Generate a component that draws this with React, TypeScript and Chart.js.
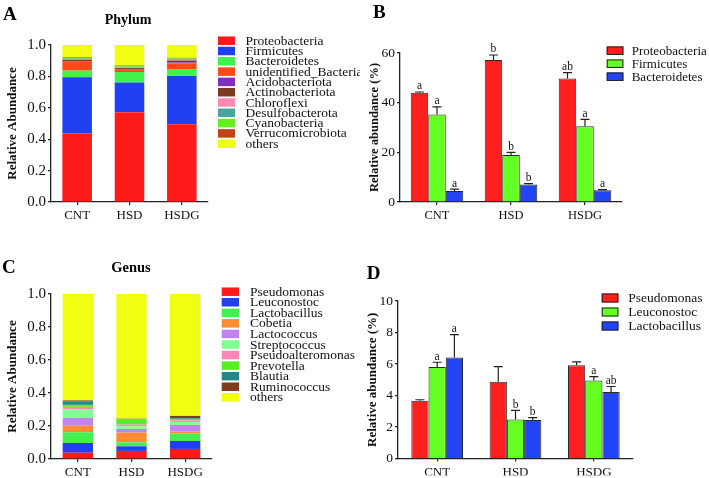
import React, { useEffect, useRef } from "react";
import { Chart, registerables } from "chart.js";

Chart.register(...registerables);

const SERIF = "'Liberation Serif', 'Times New Roman', Times, serif";

// ---------- shared categories ----------
const groups = ["CNT", "HSD", "HSDG"];

// ---------- Panel A: phylum composition ----------
const phylumNames = [
  "Proteobacteria", "Firmicutes", "Bacteroidetes", "unidentified_Bacteria", "Acidobacteriota",
  "Actinobacteriota", "Chloroflexi", "Desulfobacterota", "Cyanobacteria", "Verrucomicrobiota", "others",
];
const phylumColors = [
  "#ff1a1a", "#2140f2", "#40f24a", "#ff4a18", "#7d2fbf",
  "#7a3b1e", "#ff8ab4", "#4aa59e", "#62f01e", "#c0421a", "#f0ff12",
];
const phylumCNT = [0.436, 0.358, 0.043, 0.057, 0.004, 0.008, 0.004, 0.004, 0.004, 0.004, 0.078];
const phylumHSD = [0.572, 0.189, 0.067, 0.015, 0.004, 0.006, 0.004, 0.004, 0.005, 0.003, 0.131];
const phylumHSDG = [0.496, 0.307, 0.044, 0.036, 0.006, 0.012, 0.004, 0.004, 0.005, 0.004, 0.082];

// ---------- Panel C: genus composition ----------
const genusNames = [
  "Pseudomonas", "Leuconostoc", "Lactobacillus", "Cobetia", "Lactococcus",
  "Streptococcus", "Pseudoalteromonas", "Prevotella", "Blautia", "Ruminococcus", "others",
];
const genusColors = [
  "#ff1a1a", "#2140f2", "#44f050", "#ff8c30", "#c282f0",
  "#84ff92", "#ff86b4", "#55f022", "#1f8a86", "#7e3c1c", "#f0ff12",
];
const genusCNT = [0.038, 0.059, 0.065, 0.040, 0.047, 0.051, 0.016, 0.012, 0.022, 0.005, 0.645];
const genusHSD = [0.049, 0.028, 0.024, 0.059, 0.022, 0.016, 0.011, 0.030, 0.003, 0.002, 0.756];
const genusHSDG = [0.061, 0.048, 0.045, 0.012, 0.040, 0.019, 0.010, 0.008, 0.004, 0.014, 0.739];

// ---------- Panel B: dominant phyla (%) ----------
const proteobacteriaPct = [44.0, 57.2, 49.7];
const proteobacteriaErr = [0.3, 2.0, 2.4];
const proteobacteriaSig = ["a", "b", "ab"];
const firmicutesPct = [35.2, 18.9, 30.5];
const firmicutesErr = [3.1, 1.1, 2.8];
const firmicutesSig = ["a", "b", "a"];
const bacteroidetesPct = [4.4, 7.0, 4.7];
const bacteroidetesErr = [0.8, 0.4, 0.3];
const bacteroidetesSig = ["a", "b", "a"];

// ---------- Panel D: dominant genera (%) ----------
const pseudomonasPct = [3.66, 4.87, 5.92];
const pseudomonasErr = [0.07, 0.96, 0.21];
const pseudomonasSig = ["", "", ""];
const leuconostocPct = [5.81, 2.47, 4.95];
const leuconostocErr = [0.30, 0.59, 0.25];
const leuconostocSig = ["a", "b", "a"];
const lactobacillusPct = [6.41, 2.44, 4.23];
const lactobacillusErr = [1.45, 0.15, 0.34];
const lactobacillusSig = ["a", "b", "ab"];

const barRed = "#ff1f1f";
const barGreen = "#66ff22";
const barBlue = "#2244f5";

// ---------- plugins ----------
const errorBarPlugin = {
  id: "errorBars",
  afterDatasetsDraw(chart: any) {
    const { ctx } = chart;
    const yScale = chart.scales.y;
    chart.data.datasets.forEach((ds: any, di: number) => {
      if (!ds.errors) return;
      const meta = chart.getDatasetMeta(di);
      meta.data.forEach((bar: any, i: number) => {
        const v = ds.data[i];
        const e = ds.errors[i];
        const x = bar.x;
        const yTop = bar.y;
        const yErr = yScale.getPixelForValue(v + e);
        ctx.save();
        ctx.strokeStyle = "#222";
        ctx.lineWidth = 1.2;
        ctx.beginPath();
        ctx.moveTo(x, yTop);
        ctx.lineTo(x, yErr);
        ctx.moveTo(x - 4.5, yErr);
        ctx.lineTo(x + 4.5, yErr);
        ctx.stroke();
        const lab = ds.letters ? ds.letters[i] : "";
        if (lab) {
          ctx.fillStyle = "#111";
          ctx.font = `11.5px ${SERIF}`;
          ctx.textAlign = "center";
          ctx.textBaseline = "alphabetic";
          ctx.fillText(lab, x, yErr - 2.5);
        }
        ctx.restore();
      });
    });
  },
};

const boxLegendPlugin = {
  id: "boxLegend",
  afterDraw(chart: any, _args: any, opts: any) {
    if (!opts || opts.x === undefined) return;
    const { ctx } = chart;
    ctx.save();
    chart.data.datasets.forEach((ds: any, i: number) => {
      const cy = opts.y + i * opts.gap;
      ctx.fillStyle = ds.backgroundColor;
      ctx.fillRect(opts.x, cy - opts.boxH / 2, opts.boxW, opts.boxH);
      if (opts.border) {
        ctx.strokeStyle = "#222";
        ctx.lineWidth = 1;
        ctx.strokeRect(opts.x + 0.5, cy - opts.boxH / 2 + 0.5, opts.boxW - 1, opts.boxH - 1);
      }
      ctx.fillStyle = "#111";
      ctx.font = `${opts.fontSize}px ${SERIF}`;
      ctx.textAlign = "left";
      ctx.textBaseline = "middle";
      ctx.fillText(ds.label, opts.textX, cy + 0.5);
    });
    ctx.restore();
  },
};

const panelTextPlugin = {
  id: "panelText",
  afterDraw(chart: any, _args: any, opts: any) {
    if (!opts || !opts.letter) return;
    const { ctx } = chart;
    ctx.save();
    ctx.fillStyle = "#000";
    ctx.textBaseline = "alphabetic";
    ctx.textAlign = "left";
    ctx.font = `bold 19px ${SERIF}`;
    ctx.fillText(opts.letter, opts.lx, opts.ly);
    if (opts.title) {
      ctx.textAlign = "center";
      ctx.font = `bold ${opts.titleSize}px ${SERIF}`;
      ctx.fillText(opts.title, opts.tx, opts.ty);
    }
    ctx.restore();
  },
};

// ---------- config builders ----------
type Layout = {
  W: number; H: number;
  left: number; right: number; top: number; bottom: number;
  xHeight: number; titlePad: number;
};

function axisCommon(lay: Layout, yTitle: string, yTitleSize: number, xFont: number, yFont: number) {
  return {
    x: {
      offset: true,
      grid: { display: true, drawOnChartArea: false, drawTicks: true, tickLength: 3, color: "#222", lineWidth: 1.2, offset: false },
      border: { display: true, color: "#222", width: 1.3 },
      ticks: { color: "#111", font: { family: SERIF, size: xFont }, padding: 3, maxRotation: 0 },
      afterFit: (s: any) => { s.height = lay.xHeight; },
    },
    y: {
      grid: { display: true, drawOnChartArea: false, drawTicks: true, tickLength: 3, color: "#222", lineWidth: 1.2 },
      border: { display: true, color: "#222", width: 1.3 },
      ticks: { color: "#111", font: { family: SERIF, size: yFont }, padding: 2 },
      title: {
        display: true, text: yTitle, color: "#111",
        font: { family: SERIF, size: yTitleSize, weight: "bold" },
        padding: { top: lay.titlePad, bottom: 0 },
      },
      afterFit: (s: any) => { s.width = lay.left; },
    },
  };
}

function layoutPadding(lay: Layout) {
  return {
    left: 0,
    right: lay.W - lay.right,
    top: lay.top,
    bottom: lay.H - lay.bottom - lay.xHeight,
  };
}

function stackedConfig(names: string[], colors: string[], rows: number[][], lay: Layout, legend: any, text: any, yFont: number, xFont: number) {
  const datasets = names.map((n, k) => ({
    label: n,
    data: rows.map((r) => r[k]),
    backgroundColor: colors[k],
    borderWidth: 0,
    barPercentage: 0.565,
    categoryPercentage: 1,
  }));
  const scales: any = axisCommon(lay, "Relative Abundance", 13, xFont, yFont);
  scales.x.stacked = true;
  scales.y.stacked = true;
  scales.y.min = 0;
  scales.y.max = 1;
  scales.y.ticks.stepSize = 0.2;
  scales.y.ticks.callback = (v: any) => Number(v).toFixed(1);
  return {
    type: "bar",
    data: { labels: groups, datasets },
    options: {
      responsive: false,
      animation: false,
      devicePixelRatio: 1,
      layout: { padding: layoutPadding(lay) },
      scales,
      plugins: {
        legend: { display: false },
        tooltip: { enabled: false },
        boxLegend: legend,
        panelText: text,
      },
    },
    plugins: [boxLegendPlugin, panelTextPlugin],
  };
}

type Series = { label: string; data: number[]; errors: number[]; letters: string[]; color: string };

function groupedConfig(series: Series[], lay: Layout, yMax: number, yStep: number, catPct: number, legend: any, text: any, yTitleSize: number, xFont: number, yFont: number) {
  const datasets = series.map((s) => ({
    label: s.label,
    data: s.data,
    errors: s.errors,
    letters: s.letters,
    backgroundColor: s.color,
    borderColor: "#2a2a2a",
    borderWidth: 1,
    barPercentage: 1,
    categoryPercentage: catPct,
  }));
  const scales: any = axisCommon(lay, "Relative abundance (%)", yTitleSize, xFont, yFont);
  scales.y.min = 0;
  scales.y.max = yMax;
  scales.y.ticks.stepSize = yStep;
  return {
    type: "bar",
    data: { labels: groups, datasets },
    options: {
      responsive: false,
      animation: false,
      devicePixelRatio: 1,
      layout: { padding: layoutPadding(lay) },
      scales,
      plugins: {
        legend: { display: false },
        tooltip: { enabled: false },
        boxLegend: legend,
        panelText: text,
      },
    },
    plugins: [errorBarPlugin, boxLegendPlugin, panelTextPlugin],
  };
}

// ---------- panel component ----------
function ChartPanel(props: { x: number; y: number; w: number; h: number; make: () => any }) {
  const ref = useRef<HTMLCanvasElement>(null);
  useEffect(() => {
    if (!ref.current) return;
    const chart = new Chart(ref.current, props.make());
    return () => chart.destroy();
  }, []);
  return (
    <canvas
      ref={ref}
      width={props.w}
      height={props.h}
      style={{ position: "absolute", left: props.x, top: props.y, width: props.w, height: props.h }}
    />
  );
}

const layA: Layout = { W: 360, H: 230, left: 51, right: 208, top: 45, bottom: 202, xHeight: 24, titlePad: 5 };
const layB: Layout = { W: 349, H: 230, left: 40, right: 262, top: 53, bottom: 202, xHeight: 24, titlePad: 7 };
const layC: Layout = { W: 360, H: 248, left: 51, right: 212, top: 64, bottom: 229, xHeight: 17, titlePad: 4.5 };
const layD: Layout = { W: 349, H: 248, left: 38, right: 273, top: 71, bottom: 228.5, xHeight: 17, titlePad: 5 };

export default function App() {
  return (
    <div style={{ position: "fixed", left: 0, top: 0, width: 709, height: 478, background: "#fff", overflow: "hidden" }}>
      <ChartPanel
        x={0} y={0} w={360} h={230}
        make={() =>
          stackedConfig(
            phylumNames, phylumColors, [phylumCNT, phylumHSD, phylumHSDG], layA,
            { x: 218, y: 40.7, gap: 10.3, boxW: 17, boxH: 8.5, textX: 245.5, fontSize: 13.5, border: false },
            { letter: "A", lx: 3, ly: 19.5, title: "Phylum", tx: 128, ty: 24, titleSize: 14 },
            15, 13
          )
        }
      />
      <ChartPanel
        x={360} y={0} w={349} h={230}
        make={() =>
          groupedConfig(
            [
              { label: "Proteobacteria", data: proteobacteriaPct, errors: proteobacteriaErr, letters: proteobacteriaSig, color: barRed },
              { label: "Firmicutes", data: firmicutesPct, errors: firmicutesErr, letters: firmicutesSig, color: barGreen },
              { label: "Bacteroidetes", data: bacteroidetesPct, errors: bacteroidetesErr, letters: bacteroidetesSig, color: barBlue },
            ],
            layB, 60, 20, 0.71,
            { x: 246.7, y: 50.7, gap: 13, boxW: 16.7, boxH: 8.5, textX: 271.7, fontSize: 13, border: true },
            { letter: "B", lx: 13, ly: 18.3 },
            12.5, 12.5, 13.5
          )
        }
      />
      <ChartPanel
        x={0} y={230} w={360} h={248}
        make={() =>
          stackedConfig(
            genusNames, genusColors, [genusCNT, genusHSD, genusHSDG], layC,
            { x: 221.7, y: 61.7, gap: 10.56, boxW: 17.3, boxH: 8.5, textX: 250, fontSize: 13.5, border: false },
            { letter: "C", lx: 2, ly: 43.3, title: "Genus", tx: 131, ty: 42, titleSize: 14.5 },
            15, 13
          )
        }
      />
      <ChartPanel
        x={360} y={230} w={349} h={248}
        make={() =>
          groupedConfig(
            [
              { label: "Pseudomonas", data: pseudomonasPct, errors: pseudomonasErr, letters: pseudomonasSig, color: barRed },
              { label: "Leuconostoc", data: leuconostocPct, errors: leuconostocErr, letters: leuconostocSig, color: barGreen },
              { label: "Lactobacillus", data: lactobacillusPct, errors: lactobacillusErr, letters: lactobacillusSig, color: barBlue },
            ],
            layD, 10, 2, 0.66,
            { x: 241.7, y: 68, gap: 14, boxW: 16.7, boxH: 9, textX: 268.3, fontSize: 13.5, border: true },
            { letter: "D", lx: 6.7, ly: 49.3 },
            13, 13, 13.5
          )
        }
      />
    </div>
  );
}
